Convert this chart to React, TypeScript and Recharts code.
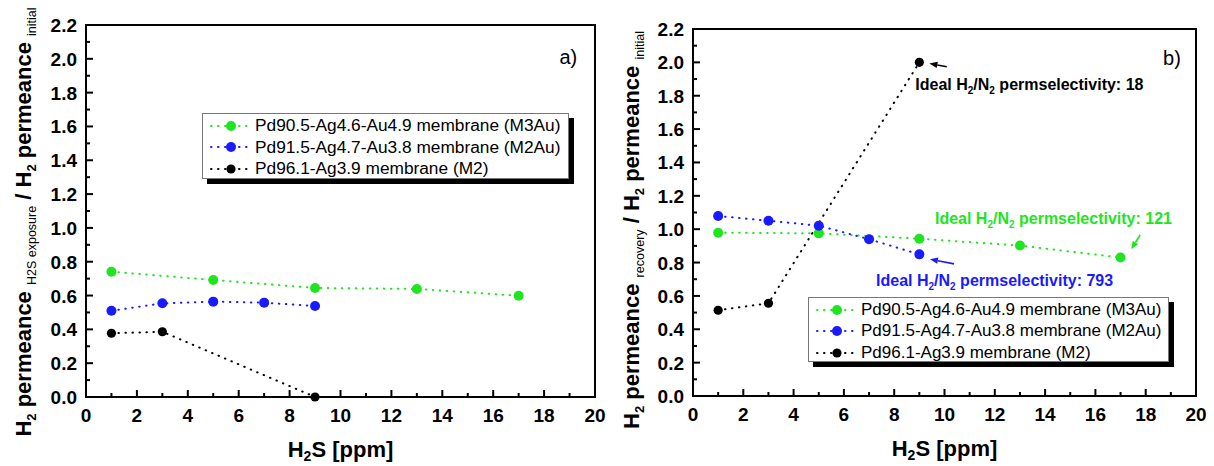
import React from 'react';
import { LineChart, Line, XAxis, YAxis, ReferenceArea, ReferenceDot, ReferenceLine, Legend } from 'recharts';

const FONT = '"Liberation Sans", Arial, sans-serif';
const GREEN = '#1fe51f';
const BLUE = '#1a1aff';
const BLACK = '#000000';

const xMajorTicks = [0, 2, 4, 6, 8, 10, 12, 14, 16, 18, 20];
const xMinorTicks = [1, 3, 5, 7, 9, 11, 13, 15, 17, 19];
const yMajorTicks = [0, 0.2, 0.4, 0.6, 0.8, 1.0, 1.2, 1.4, 1.6, 1.8, 2.0, 2.2];
const yMinorTicks = [0.1, 0.3, 0.5, 0.7, 0.9, 1.1, 1.3, 1.5, 1.7, 1.9, 2.1];

const seriesNames = [
  'Pd90.5-Ag4.6-Au4.9 membrane (M3Au)',
  'Pd91.5-Ag4.7-Au3.8 membrane (M2Au)',
  'Pd96.1-Ag3.9 membrane (M2)',
];
const seriesColors = [GREEN, BLUE, BLACK];

// H2S concentrations [ppm] for each membrane
const m3auPpm = [1, 5, 9, 13, 17];
const m2auPpm = [1, 3, 5, 7, 9];
const m2Ppm = [1, 3, 9];

// a) permeance after H2S exposure / initial
const m3auExposure = [0.741, 0.692, 0.645, 0.639, 0.599];
const m2auExposure = [0.51, 0.554, 0.564, 0.558, 0.538];
const m2Exposure = [0.377, 0.386, 0.0];

// b) permeance after recovery / initial
const m3auRecovery = [0.979, 0.975, 0.943, 0.902, 0.83];
const m2auRecovery = [1.079, 1.051, 1.021, 0.94, 0.849];
const m2Recovery = [0.514, 0.556, 2.0];

// ideal H2/N2 permselectivity notes for panel b)
const noteValues = ['18', '121', '793'];
const noteColors = [BLACK, GREEN, BLUE];
const noteTextPos = [
  [8.84, 1.832],
  [9.62, 1.031],
  [7.28, 0.66],
];
const noteArrows = [
  [10.09, 1.974, 9.4, 1.993],
  [17.78, 0.965, 17.42, 0.88],
  [10.38, 0.792, 9.42, 0.82],
];

const pts = (xs: number[], ys: number[]) => xs.map((x, i) => ({ x, y: ys[i] }));

const XTick = (props: any) => {
  const { x, y, payload } = props;
  const v = payload.value;
  const major = xMajorTicks.includes(v);
  return (
    <g>
      <line x1={x} y1={y} x2={x} y2={y - (major ? 7 : 4)} stroke="#000" strokeWidth={2} />
      {major && (
        <text x={x} y={y + 25} textAnchor="middle" fontFamily={FONT} fontWeight="bold" fontSize={19} fill="#000">
          {v}
        </text>
      )}
    </g>
  );
};

const YTick = (props: any) => {
  const { x, y, payload } = props;
  const v = payload.value;
  const major = yMajorTicks.includes(v);
  return (
    <g>
      <line x1={x} y1={y} x2={x + (major ? 7 : 4)} y2={y} stroke="#000" strokeWidth={2} />
      {major && (
        <text x={x - 9} y={y + 7} textAnchor="end" fontFamily={FONT} fontWeight="bold" fontSize={19} fill="#000">
          {v.toFixed(1)}
        </text>
      )}
    </g>
  );
};

const YTitle = ({ cx, cy, sub }: { cx: number; cy: number; sub: string }) => (
  <text
    x={cx}
    y={cy}
    transform={`rotate(-90 ${cx} ${cy})`}
    textAnchor="middle"
    fontFamily={FONT}
    fontWeight="bold"
    fontSize={22}
    fill="#000"
  >
    H
    <tspan fontSize={13} dy={5}>2</tspan>
    <tspan dy={-5}>{' permeance '}</tspan>
    <tspan fontSize={12.5} fontWeight="normal" dy={5}>{sub}</tspan>
    <tspan dy={-5}>{' / H'}</tspan>
    <tspan fontSize={13} dy={5}>2</tspan>
    <tspan dy={-5}>{' permeance '}</tspan>
    <tspan fontSize={12.5} fontWeight="normal" dy={5}>initial</tspan>
  </text>
);

const XTitle = (props: any) => {
  const vb = props.viewBox;
  const cx = vb.x + vb.width / 2;
  const y = vb.y + 60;
  return (
    <text x={cx} y={y} textAnchor="middle" fontFamily={FONT} fontWeight="bold" fontSize={22} fill="#000">
      H
      <tspan fontSize={14} dy={4}>2</tspan>
      <tspan dy={-4}>S [ppm]</tspan>
    </text>
  );
};

const legendContent = (box: { left: number; top: number; width: number; height: number; fontSize: number }) => () => (
  <div
    style={{
      position: 'absolute',
      left: box.left,
      top: box.top,
      width: box.width,
      height: box.height,
      boxSizing: 'border-box',
      border: '1px solid #777',
      background: '#fff',
      boxShadow: '5px 5px 0 #000',
      fontFamily: FONT,
      fontSize: box.fontSize,
      color: '#000',
      paddingTop: 1,
    }}
  >
    {seriesNames.map((name, i) => (
      <div key={name} style={{ display: 'flex', alignItems: 'center', height: 21.5, whiteSpace: 'nowrap' }}>
        <svg width={52} height={14} style={{ flex: '0 0 52px' }}>
          <line
            x1={8}
            y1={7}
            x2={46}
            y2={7}
            stroke={seriesColors[i]}
            strokeWidth={2}
            strokeDasharray="0.5 6.5"
            strokeLinecap="round"
          />
          <circle cx={28} cy={7} r={i === 2 ? 4.6 : 5} fill={seriesColors[i]} />
        </svg>
        <span>{name}</span>
      </div>
    ))}
  </div>
);

const Arrow = (color: string) => (p: any) => {
  const { x1, y1, x2, y2 } = p;
  const a = Math.atan2(y2 - y1, x2 - x1);
  const len = 8;
  const w = 3.2;
  const bx = x2 - len * Math.cos(a);
  const by = y2 - len * Math.sin(a);
  const px = -Math.sin(a) * w;
  const py = Math.cos(a) * w;
  return (
    <g>
      <line x1={x1} y1={y1} x2={bx} y2={by} stroke={color} strokeWidth={1.6} />
      <polygon points={`${x2},${y2} ${bx + px},${by + py} ${bx - px},${by - py}`} fill={color} />
    </g>
  );
};

const NoteText = (value: string, color: string) => (p: any) => (
  <text x={p.cx} y={p.cy} fontFamily={FONT} fontWeight="bold" fontSize={16} fill={color}>
    Ideal H
    <tspan fontSize={10} dy={4}>2</tspan>
    <tspan dy={-4}>/N</tspan>
    <tspan fontSize={10} dy={4}>2</tspan>
    <tspan dy={-4}>{` permselectivity: ${value}`}</tspan>
  </text>
);

const PanelLetter = (letter: string) => (p: any) => (
  <text x={p.cx} y={p.cy} textAnchor="end" fontFamily={FONT} fontSize={20} fill="#000">
    {letter}
  </text>
);

type PanelProps = {
  left: number;
  width: number;
  margin: { top: number; right: number; bottom: number; left: number };
  yAxisWidth: number;
  xAxisHeight: number;
  series: { x: number; y: number }[][];
  sub: string;
  titleX: number;
  titleY: number;
  letter: string;
  letterPos: [number, number];
  legendBox: { left: number; top: number; width: number; height: number; fontSize: number };
  notes?: boolean;
};

const Panel = (p: PanelProps) => (
  <div style={{ position: 'absolute', left: p.left, top: 0 }}>
    <LineChart width={p.width} height={466} margin={p.margin}>
      <XAxis
        type="number"
        dataKey="x"
        domain={[0, 20]}
        ticks={[...xMajorTicks, ...xMinorTicks]}
        interval={0}
        height={p.xAxisHeight}
        tickSize={0}
        tickMargin={0}
        tickLine={false}
        axisLine={{ stroke: '#000', strokeWidth: 2 }}
        tick={<XTick />}
        label={{ content: (lp: any) => <XTitle {...lp} /> }}
      />
      <YAxis
        type="number"
        dataKey="y"
        domain={[0, 2.2]}
        ticks={[...yMajorTicks, ...yMinorTicks]}
        interval={0}
        width={p.yAxisWidth}
        tickSize={0}
        tickMargin={0}
        tickLine={false}
        axisLine={{ stroke: '#000', strokeWidth: 2 }}
        tick={<YTick />}
        label={{ content: () => <YTitle cx={p.titleX} cy={p.titleY} sub={p.sub} /> }}
      />
      <ReferenceArea
        x1={0}
        x2={20}
        y1={0}
        y2={2.2}
        fill="none"
        fillOpacity={0}
        stroke="#000"
        strokeWidth={2}
        ifOverflow="visible"
      />
      {p.series.map((data, i) => (
        <Line
          key={seriesNames[i]}
          data={data}
          dataKey="y"
          name={seriesNames[i]}
          stroke={seriesColors[i]}
          strokeWidth={2}
          strokeDasharray="0.5 6.5"
          strokeLinecap="round"
          dot={{ r: i === 2 ? 4.6 : 5, fill: seriesColors[i], stroke: 'none' }}
          isAnimationActive={false}
        />
      ))}
      {p.notes &&
        noteArrows.map((a, i) => (
          <ReferenceLine
            key={'arrow' + i}
            segment={[
              { x: a[0], y: a[1] },
              { x: a[2], y: a[3] },
            ]}
            ifOverflow="visible"
            shape={Arrow(noteColors[i])}
          />
        ))}
      {p.notes &&
        noteTextPos.map((t, i) => (
          <ReferenceDot
            key={'note' + i}
            x={t[0]}
            y={t[1]}
            r={0}
            ifOverflow="visible"
            shape={NoteText(noteValues[i], noteColors[i])}
          />
        ))}
      <ReferenceDot x={p.letterPos[0]} y={p.letterPos[1]} r={0} ifOverflow="visible" shape={PanelLetter(p.letter)} />
      <Legend
        layout="vertical"
        align="center"
        verticalAlign="middle"
        wrapperStyle={{ left: 0, top: 0, width: 0, height: 0 }}
        content={legendContent(p.legendBox)}
      />
    </LineChart>
  </div>
);

export default function App() {
  return (
    <div style={{ position: 'absolute', left: 0, top: 0, width: 1214, height: 466, background: '#fff' }}>
      <Panel
        left={0}
        width={610}
        margin={{ top: 25, right: 15, bottom: 0, left: 0 }}
        yAxisWidth={86}
        xAxisHeight={69}
        series={[pts(m3auPpm, m3auExposure), pts(m2auPpm, m2auExposure), pts(m2Ppm, m2Exposure)]}
        sub="H2S exposure"
        titleX={31}
        titleY={222}
        letter="a)"
        letterPos={[19.3, 1.97]}
        legendBox={{ left: 202, top: 113, width: 367, height: 66, fontSize: 17.3 }}
      />
      <Panel
        left={610}
        width={604}
        margin={{ top: 29, right: 18, bottom: 0, left: 0 }}
        yAxisWidth={83}
        xAxisHeight={70}
        series={[pts(m3auPpm, m3auRecovery), pts(m2auPpm, m2auRecovery), pts(m2Ppm, m2Recovery)]}
        sub="recovery"
        titleX={29}
        titleY={230}
        letter="b)"
        letterPos={[19.4, 1.985]}
        legendBox={{ left: 198, top: 297, width: 361, height: 65, fontSize: 17 }}
        notes
      />
    </div>
  );
}
